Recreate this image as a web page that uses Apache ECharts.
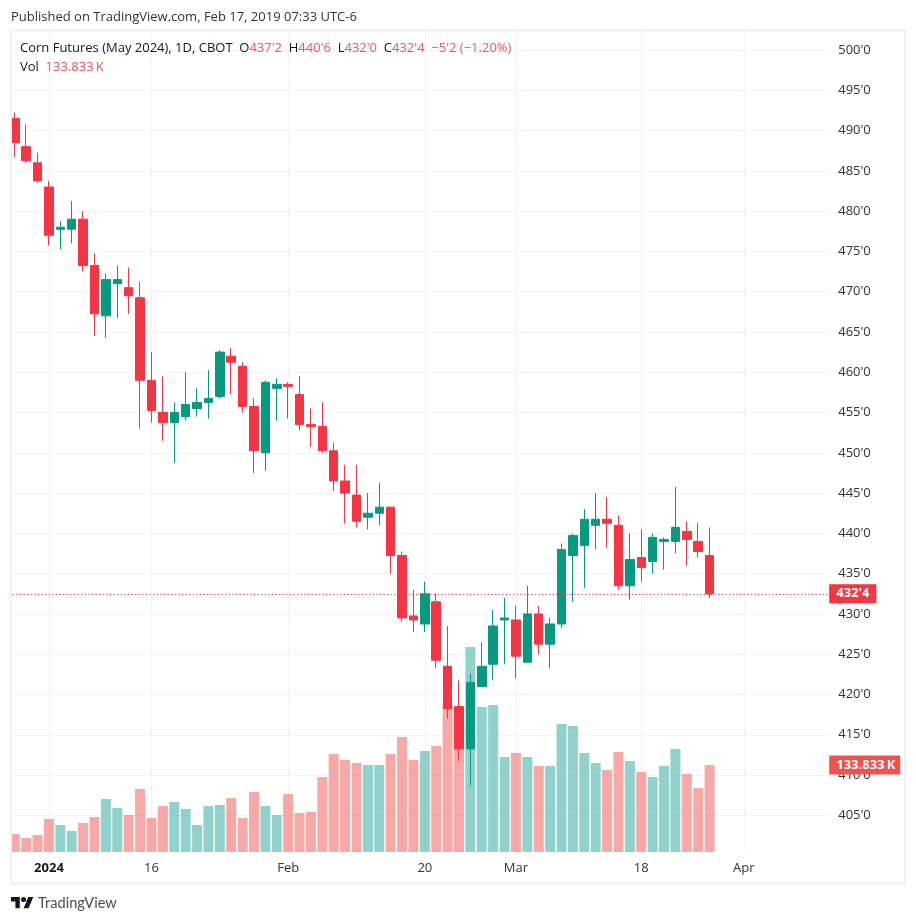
<!DOCTYPE html>
<html>
<head>
<meta charset="utf-8">
<title>Corn Futures (May 2024)</title>
<script src="https://cdn.jsdelivr.net/npm/echarts@6/dist/echarts.min.js"></script>
<style>
  html, body { margin: 0; padding: 0; background: #fff; }
  #chart { width: 916px; height: 923px; }
</style>
</head>
<body>
<div id="chart"></div>
<script>
// Trading days, the last ten are the empty space up to the price scale
const dates = [
  '2023-12-27', '2023-12-28', '2023-12-29', '2024-01-02', '2024-01-03', '2024-01-04', '2024-01-05', '2024-01-08',
  '2024-01-09', '2024-01-10', '2024-01-11', '2024-01-12', '2024-01-16', '2024-01-17', '2024-01-18', '2024-01-19',
  '2024-01-22', '2024-01-23', '2024-01-24', '2024-01-25', '2024-01-26', '2024-01-29', '2024-01-30', '2024-01-31',
  '2024-02-01', '2024-02-02', '2024-02-05', '2024-02-06', '2024-02-07', '2024-02-08', '2024-02-09', '2024-02-12',
  '2024-02-13', '2024-02-14', '2024-02-15', '2024-02-16', '2024-02-20', '2024-02-21', '2024-02-22', '2024-02-23',
  '2024-02-26', '2024-02-27', '2024-02-28', '2024-02-29', '2024-03-01', '2024-03-04', '2024-03-05', '2024-03-06',
  '2024-03-07', '2024-03-08', '2024-03-11', '2024-03-12', '2024-03-13', '2024-03-14', '2024-03-15', '2024-03-18',
  '2024-03-19', '2024-03-20', '2024-03-21', '2024-03-22', '2024-03-25', '2024-03-26',
  '2024-03-27', '2024-03-28', '2024-04-01', '2024-04-02', '2024-04-03', '2024-04-04', '2024-04-05', '2024-04-08',
  '2024-04-09', '2024-04-10'
];
const opens = [
  491.5, 488, 486, 483, 477.75, 477.75, 479, 473.25, 467, 471, 470.5, 469.25, 459, 455, 453.75, 454.5,
  455.5, 456.25, 457, 462, 460.75, 455.75, 450, 458, 458.5, 457.25, 453.5, 453.25, 450.25, 446.5, 444.75, 442,
  442.5, 443.25, 437.25, 429.75, 428.75, 431.5, 423.5, 418.5, 413.25, 421, 423.75, 429.25, 429.25, 424, 430, 426.25,
  428.75, 437.25, 438.5, 441, 441.75, 441, 433.5, 437, 436.5, 439, 439, 440.25, 439, 437.25
];
const closes = [
  488.5, 486.25, 483.75, 477, 478, 479, 473.25, 467.25, 471.5, 471.5, 469.5, 459, 455.25, 453.75, 455, 456,
  456.25, 456.75, 462.5, 461.25, 455.75, 450.25, 458.75, 458.5, 458.25, 453.5, 453.25, 450.25, 446.5, 445, 441.5, 442.5,
  443.25, 437.25, 429.5, 429.25, 432.5, 424.25, 418.25, 413.25, 421.5, 423.5, 428.5, 429.5, 424.75, 430, 426.25, 428.75,
  438, 439.75, 441.75, 441.75, 441.25, 433.5, 436.75, 435.75, 439.5, 439.25, 440.75, 439.25, 437.75, 432.5
];
const lows = [
  486.75, 486, 483.5, 475.75, 475.25, 476, 472.5, 464.5, 464.25, 466.75, 467.25, 453, 453.75, 451.5, 448.75, 454,
  454.5, 454.25, 456.75, 457.25, 455, 447.5, 447.75, 454, 454.25, 452.75, 450.75, 450, 445.25, 441.25, 440.75, 440.5,
  441, 435, 429, 427.75, 427.75, 423.25, 417, 411.75, 408.75, 421, 421.75, 423.75, 422, 424, 425, 423.25,
  428.25, 431.5, 433.25, 438, 438.25, 433, 431.75, 434, 435, 435.5, 437.5, 436, 437, 432
];
const highs = [
  492.25, 490.75, 487.25, 483.75, 478.75, 481.25, 480, 474.75, 472.25, 473.25, 473, 471.25, 462.5, 459.5, 456.25, 460,
  458, 460.25, 462.75, 463, 461.25, 456.75, 459, 459.25, 458.75, 459.5, 455.5, 456.25, 451.25, 448.5, 448.5, 445,
  446.25, 443.25, 437.75, 433, 434, 432.5, 428.5, 421.75, 422.5, 426.5, 430.5, 432, 431, 433.5, 431, 429.5,
  438.75, 440, 443, 445, 444.5, 442.25, 440, 440.5, 440, 439.5, 445.75, 441.5, 441.25, 440.75
];
// Volume in thousands
const volumes = [
  27.7, 21.5, 26.2, 50.8, 41.5, 32.3, 44.6, 53.8, 81.5, 67.7, 56.9, 96.9, 52.3, 70.8, 76.9, 66.2,
  41.5, 70.8, 72.3, 83.1, 52.3, 92.3, 70.8, 56.9, 89.2, 60, 61.5, 115.4, 150.8, 141.5, 136.9, 133.8,
  133.8, 150.8, 176.9, 141.5, 155.4, 163.1, 227.7, 223.1, 315.4, 223.1, 226.2, 146.2, 152.3, 146.2, 132.3, 132.3,
  196.9, 193.8, 152.3, 136.9, 126.2, 153.8, 140, 123.1, 115.4, 132.3, 158.5, 120, 98.5, 133.833
];
const timeLabels = {
  '2024-01-02': '2024', '2024-01-16': '16', '2024-02-01': 'Feb', '2024-02-20': '20',
  '2024-03-01': 'Mar', '2024-03-18': '18', '2024-04-01': 'Apr'
};
const lastClose = 432.5;
const lastCloseLabel = "432'4";
const lastVolume = 133.833;
const lastVolumeLabel = '133.833\u2009K';

const FONT = '"Open Sans", sans-serif';
const TEXT = '#131722';
const UP = '#089981';
const DOWN = '#f23645';
const LEGEND_RED = '#f7525f';
const GRID_LINE = '#f1f2f5';
const FRAME = '#f0f0f5';

const isTimeLabel = (i, value) => value in timeLabels;
const candles = opens.map((o, i) => [o, closes[i], lows[i], highs[i]]);
const volumeBars = volumes.map((v, i) => ({
  value: v,
  itemStyle: { color: closes[i] < opens[i] ? 'rgba(239,83,80,0.5)' : 'rgba(38,166,154,0.5)' }
}));

const chart = echarts.init(document.getElementById('chart'), null, { renderer: 'canvas' });

chart.setOption({
  animation: false,
  backgroundColor: '#fff',
  textStyle: { fontFamily: FONT },
  title: [
    {
      text: 'Published on TradingView.com, Feb 17, 2019 07:33 UTC-6',
      left: 11, top: 11, padding: 0,
      textStyle: { fontSize: 13, fontWeight: 'normal', color: '#333', fontFamily: FONT }
    },
    {
      text: "Corn Futures (May 2024), 1D, CBOT  O{r|437'2}  H{r|440'6}  L{r|432'0}  C{r|432'4}  {r|\u22125'2 (\u22121.20%)}",
      left: 20, top: 42, padding: 0,
      textStyle: {
        fontSize: 13, fontWeight: 'normal', color: TEXT, fontFamily: FONT,
        rich: { r: { color: LEGEND_RED, fontSize: 13, fontFamily: FONT } }
      }
    },
    {
      text: 'Vol  {r|133.833\u2009K}',
      left: 20, top: 61, padding: 0,
      textStyle: {
        fontSize: 13, fontWeight: 'normal', color: TEXT, fontFamily: FONT,
        rich: { r: { color: LEGEND_RED, fontSize: 13, fontFamily: FONT } }
      }
    },
    {
      text: 'TradingView',
      left: 38, top: 896, padding: 0,
      textStyle: { fontSize: 14.6, fontWeight: 'normal', color: '#4a4e59', fontFamily: 'Lato, sans-serif' }
    }
  ],
  grid: [
    { left: 9.1, width: 820.1, top: 31, height: 824.6 },
    { left: 9.1, width: 820.1, top: 31, height: 821 }
  ],
  xAxis: [
    {
      type: 'category', gridIndex: 0, data: dates, boundaryGap: true,
      axisLine: { show: false }, axisTick: { show: false }, axisLabel: { show: false }, splitLine: { show: false }
    },
    {
      type: 'category', gridIndex: 1, data: dates, boundaryGap: true,
      axisLine: { show: false }, axisTick: { show: false },
      axisLabel: {
        interval: isTimeLabel, margin: 10, fontSize: 13, color: '#333', fontFamily: FONT,
        formatter: value => value === '2024-01-02' ? '{y|2024}' : (timeLabels[value] || ''),
        rich: { y: { fontWeight: 'bold', fontSize: 13, color: TEXT, fontFamily: FONT } }
      },
      splitLine: { show: true, interval: isTimeLabel, alignWithLabel: true, lineStyle: { color: GRID_LINE, width: 1 } }
    }
  ],
  yAxis: [
    {
      type: 'value', gridIndex: 0, position: 'right', min: 400, max: 502.36, interval: 5,
      axisLine: { show: false }, axisTick: { show: false },
      axisLabel: {
        margin: 9, fontSize: 13, color: '#333', fontFamily: FONT,
        showMinLabel: false, showMaxLabel: false,
        formatter: value => value + "'0"
      },
      splitLine: { show: true, showMinLine: false, showMaxLine: false, lineStyle: { color: GRID_LINE, width: 1 } }
    },
    {
      type: 'value', gridIndex: 1, min: 0, max: 1263,
      axisLine: { show: false }, axisTick: { show: false }, axisLabel: { show: false }, splitLine: { show: false }
    }
  ],
  series: [
    {
      name: 'Vol', type: 'bar', xAxisIndex: 1, yAxisIndex: 1, data: volumeBars, barWidth: 10, z: 2,
      markLine: {
        silent: true, symbol: 'none', animation: false,
        lineStyle: { color: 'transparent', width: 0 },
        label: {
          show: true, position: 'end', distance: 0, formatter: lastVolumeLabel, color: '#fff', fontSize: 13,
          fontWeight: 'bold', fontFamily: FONT, backgroundColor: '#ef5350', padding: [3, 5, 3, 7]
        },
        data: [{ yAxis: lastVolume }]
      }
    },
    {
      name: 'Corn Futures', type: 'candlestick', xAxisIndex: 0, yAxisIndex: 0, data: candles, barWidth: 9, z: 3,
      itemStyle: { color: UP, color0: DOWN, borderColor: UP, borderColor0: DOWN, borderWidth: 1 },
      markLine: {
        silent: true, symbol: 'none', animation: false,
        lineStyle: { color: DOWN, type: [1.2, 2.4], width: 1.2, opacity: 1 },
        label: {
          position: 'end', distance: 0, formatter: lastCloseLabel, color: '#fff', fontSize: 13,
          fontWeight: 'bold', fontFamily: FONT, backgroundColor: DOWN, padding: [3, 7, 3, 7]
        },
        data: [{ yAxis: lastClose }]
      }
    }
  ],
  graphic: [
    // white margin and frame sit on top so the first candle is cut at the border
    { type: 'rect', shape: { x: 0, y: 0, width: 10, height: 923 }, style: { fill: '#fff' }, z: 50, silent: true },
    {
      type: 'rect', shape: { x: 11, y: 30.5, width: 894, height: 853 },
      style: { fill: 'none', stroke: FRAME, lineWidth: 2 }, z: 51, silent: true
    },
    {
      type: 'polygon',
      shape: { points: [[11, 897], [19.8, 897], [19.8, 908.3], [15.4, 908.3], [15.4, 901.4], [11, 901.4]] },
      style: { fill: TEXT }, z: 51, silent: true
    },
    {
      type: 'polygon',
      shape: { points: [[28.3, 897], [33.3, 897], [28.6, 908.3], [23.6, 908.3]] },
      style: { fill: TEXT }, z: 51, silent: true
    },
    { type: 'circle', shape: { cx: 23.6, cy: 899.5, r: 2.5 }, style: { fill: TEXT }, z: 51, silent: true }
  ]
});
</script>
</body>
</html>
